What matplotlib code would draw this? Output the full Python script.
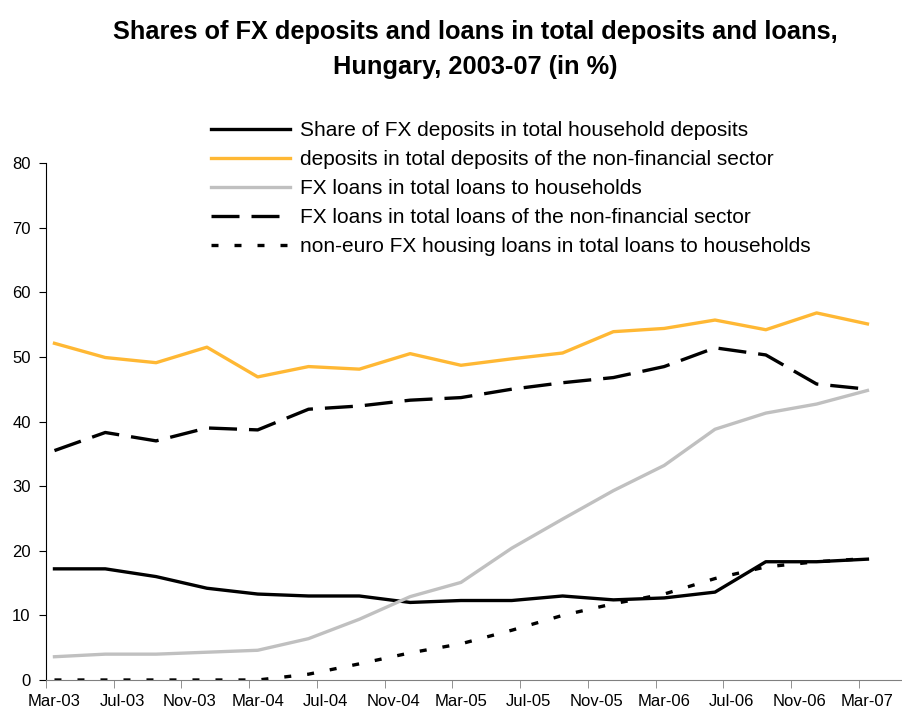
import matplotlib
matplotlib.use("Agg")
import matplotlib.pyplot as plt

plt.rcParams['font.family'] = ['Liberation Sans', 'DejaVu Sans']

# quarterly observations, Mar-03 .. Mar-07 (positions are month index)
months = list(range(0, 49, 3))
tick_labels = ['Mar-03', 'Jul-03', 'Nov-03', 'Mar-04', 'Jul-04', 'Nov-04', 'Mar-05',
               'Jul-05', 'Nov-05', 'Mar-06', 'Jul-06', 'Nov-06', 'Mar-07']

fx_dep_hh = [17.2, 17.2, 16.0, 14.2, 13.3, 13.0, 13.0, 12.0, 12.3, 12.3, 13.0, 12.4,
             12.7, 13.6, 18.3, 18.3, 18.7]
fx_dep_nfs = [52.1, 49.9, 49.1, 51.5, 46.9, 48.5, 48.1, 50.5, 48.7, 49.7, 50.6, 53.9,
              54.4, 55.7, 54.2, 56.8, 55.1]
fx_loans_hh = [3.6, 4.0, 4.0, 4.3, 4.6, 6.4, 9.4, 12.9, 15.1, 20.4, 24.9, 29.3,
               33.2, 38.8, 41.3, 42.7, 44.8]
fx_loans_nfs = [35.5, 38.3, 37.0, 39.0, 38.7, 41.9, 42.4, 43.3, 43.7, 45.0, 46.0, 46.8,
                48.5, 51.4, 50.3, 45.8, 45.0]
noneuro_housing = [0, 0, 0, 0, 0, 0.9, 2.5, 4.2, 5.6, 7.7, 10.0, 11.8,
                   13.3, 15.7, 17.5, 18.3, 18.8]

fig = plt.figure(figsize=(9.03, 7.11), dpi=100)
ax = fig.add_axes([46/903, 31/711, 857/903, 517/711])

lw = 2.4
ax.plot(months, fx_dep_hh, color='black', lw=lw,
        label='Share of FX deposits in total household deposits')
ax.plot(months, fx_dep_nfs, color='#FFB834', lw=lw,
        label='deposits in total deposits of the non-financial sector')
ax.plot(months, fx_loans_hh, color='#C0C0C0', lw=lw,
        label='FX loans in total loans to households')
ax.plot(months, fx_loans_nfs, color='black', lw=lw, dashes=(8.4, 3.6),
        label='FX loans in total loans of the non-financial sector')
ax.plot(months, noneuro_housing, color='black', lw=lw, dashes=(2.1, 4.8),
        label='non-euro FX housing loans in total loans to households')

ax.set_ylim(0, 80)
ax.set_xlim(-0.5, 50.1)
ax.set_yticks(range(0, 81, 10))
ax.tick_params(axis='y', labelsize=12, length=5, direction='out', pad=6)

ax.set_xticks(range(0, 49, 4))
ax.set_xticklabels(tick_labels, fontsize=12)
ax.tick_params(axis='x', length=0, pad=10)
ax.set_xticks([-0.5 + 4*k for k in range(13)], minor=True)
ax.tick_params(axis='x', which='minor', length=6, color='#808080', direction='out')

ax.spines['top'].set_visible(False)
ax.spines['right'].set_visible(False)
ax.spines['bottom'].set_color('#808080')
ax.spines['left'].set_color('black')

leg = fig.legend(loc='upper left', bbox_to_anchor=(211/903, 1 - 121/711),
                 frameon=False, fontsize=15, handlelength=3.8, handletextpad=0.48,
                 labelspacing=0.48, borderpad=0, borderaxespad=0)

fig.text(475/903, 1 - 32/711, 'Shares of FX deposits and loans in total deposits and loans,',
         ha='center', va='center', fontsize=18.3, fontweight='bold')
fig.text(475/903, 1 - 67/711, 'Hungary, 2003-07 (in %)',
         ha='center', va='center', fontsize=18.3, fontweight='bold')

fig.savefig('out.png', dpi=100)
